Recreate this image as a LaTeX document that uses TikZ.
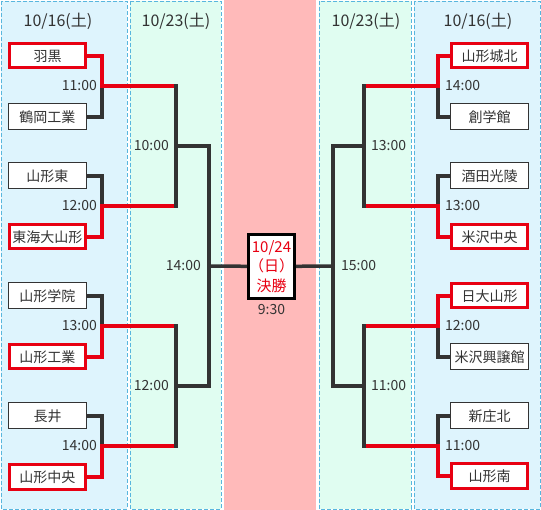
\documentclass[tikz,border=0pt]{standalone}
\usepackage{fontspec}
\setmainfont{Noto Sans CJK JP}
\usetikzlibrary{positioning}
\definecolor{dayblue}{RGB}{222,244,253}
\definecolor{daygreen}{RGB}{224,253,241}
\definecolor{daypink}{RGB}{255,186,186}
\definecolor{dashblue}{RGB}{88,182,222}
\definecolor{linegray}{RGB}{51,51,51}
\definecolor{winred}{RGB}{232,0,18}
\tikzstyle{day} = [draw=dashblue,
                  dash pattern=on 4pt off 2pt,
                  line width=0.8pt]
\tikzstyle{head} = [font=\fontsize{16}{18}\selectfont,
                   text=linegray,
                   inner sep=0pt]
\tikzstyle{team} = [rectangle,
                   minimum width=78pt,
                   minimum height=26pt,
                   inner sep=0pt,
                   align=center,
                   draw=linegray,
                   fill=white,
                   line width=1pt,
                   text=linegray,
                   font=\fontsize{14}{16}\selectfont]
\tikzstyle{winner} = [team,
                     minimum width=76pt,
                     minimum height=24pt,
                     draw=winred,
                     line width=3pt]
\tikzstyle{final} = [rectangle,
                    minimum width=46pt,
                    minimum height=64pt,
                    inner sep=0pt,
                    align=center,
                    draw=black,
                    fill=white,
                    line width=3pt,
                    text=winred,
                    font=\fontsize{15}{19.5}\selectfont]
\tikzstyle{time} = [font=\fontsize{14}{16}\selectfont,
                   text=linegray,
                   inner sep=0pt]
\tikzstyle{loss} = [draw=linegray, line width=3.5pt, line join=miter]
\tikzstyle{win} = [draw=winred, line width=3.5pt, line join=miter]
\tikzstyle{bracket} = [x=1pt, y=-1pt]

\begin{document}
\begin{tikzpicture}[bracket]
    \useasboundingbox (0,0) rectangle (541,510);
    \fill[white] (0,0) rectangle (541,510);
    \filldraw[day, fill=dayblue] (1,1) rectangle (127,509);
    \filldraw[day, fill=daygreen] (130,1) rectangle (221,509);
    \fill[daypink] (224,0) rectangle (316,510);
    \filldraw[day, fill=daygreen] (319,1) rectangle (411,509);
    \filldraw[day, fill=dayblue] (414,1) rectangle (540,509);

    \node (d1) [head] at (58,21) {10/16(土)};
    \node (d2) [head] at (176,21) {10/23(土)};
    \node (d4) [head] at (366,21) {10/23(土)};
    \node (d5) [head] at (478,21) {10/16(土)};

    \node (l1) [winner] at (47.5,56) {羽黒};
    \node (l2) [team] at (47.5,117) {鶴岡工業};
    \node (l3) [team] at (47.5,176) {山形東};
    \node (l4) [winner] at (47.5,237) {東海大山形};
    \node (l5) [team] at (47.5,296) {山形学院};
    \node (l6) [winner] at (47.5,357) {山形工業};
    \node (l7) [team] at (47.5,416) {長井};
    \node (l8) [winner] at (47.5,477) {山形中央};

    \node (r1) [winner] at (489.5,56) {山形城北};
    \node (r2) [team] at (489.5,117) {創学館};
    \node (r3) [team] at (489.5,176) {酒田光陵};
    \node (r4) [winner] at (489.5,237) {米沢中央};
    \node (r5) [winner] at (489.5,296) {日大山形};
    \node (r6) [team] at (489.5,357) {米沢興譲館};
    \node (r7) [team] at (489.5,416) {新庄北};
    \node (r8) [winner] at (489.5,476) {山形南};

    \node (fin) [final] at (271.5,266.5) {10/24\\（日）\\決勝};
    \node (t0) [time, below=4pt of fin] {9:30};

    \coordinate (lj1) at (102,86);
    \coordinate (lj2) at (102,206);
    \coordinate (lj3) at (102,326);
    \coordinate (lj4) at (102,446);
    \coordinate (la1) at (176,86);
    \coordinate (la2) at (176,206);
    \coordinate (la3) at (176,326);
    \coordinate (la4) at (176,446);
    \coordinate (lm1) at (176,146);
    \coordinate (lm2) at (176,386);
    \coordinate (ls1) at (209,146);
    \coordinate (ls2) at (209,386);
    \coordinate (lsm) at (209,266);

    \coordinate (rj1) at (438,86);
    \coordinate (rj2) at (438,206);
    \coordinate (rj3) at (438,326);
    \coordinate (rj4) at (438,446);
    \coordinate (ra1) at (364,86);
    \coordinate (ra2) at (364,206);
    \coordinate (ra3) at (364,326);
    \coordinate (ra4) at (364,446);
    \coordinate (rm1) at (364,146);
    \coordinate (rm2) at (364,386);
    \coordinate (rs1) at (333,146);
    \coordinate (rs2) at (333,386);
    \coordinate (rsm) at (333,266);

    \draw[loss] (l2.east) -| (lj1);
    \draw[loss] (l3.east) -| (lj2);
    \draw[loss] (l5.east) -| (lj3);
    \draw[loss] (l7.east) -| (lj4);
    \draw[win] (l1.east) -| (lj1) -- (la1);
    \draw[win] (l4.east) -| (lj2) -- (la2);
    \draw[win] (l6.east) -| (lj3) -- (la3);
    \draw[win] (l8.east) -| (lj4) -- (la4);
    \draw[loss, line cap=rect] (la1) -- (la2);
    \draw[loss, line cap=rect] (la3) -- (la4);
    \draw[loss] (lm1) -- (ls1) -- (ls2) -- (lm2);
    \draw[loss] (lsm) -- (fin);

    \draw[loss] (r2.west) -| (rj1);
    \draw[loss] (r3.west) -| (rj2);
    \draw[loss] (r6.west) -| (rj3);
    \draw[loss] (r7.west) -| (rj4);
    \draw[win] (r1.west) -| (rj1) -- (ra1);
    \draw[win] (r4.west) -| (rj2) -- (ra2);
    \draw[win] (r5.west) -| (rj3) -- (ra3);
    \draw[win] (r8.west) -| (rj4) -- (ra4);
    \draw[loss, line cap=rect] (ra1) -- (ra2);
    \draw[loss, line cap=rect] (ra3) -- (ra4);
    \draw[loss] (rm1) -- (rs1) -- (rs2) -- (rm2);
    \draw[loss] (rsm) -- (fin);

    \node (tl1) [time, left=5pt of lj1] {11:00};
    \node (tl2) [time, left=5pt of lj2] {12:00};
    \node (tl3) [time, left=5pt of lj3] {13:00};
    \node (tl4) [time, left=5pt of lj4] {14:00};
    \node (tl5) [time, left=7pt of lm1] {10:00};
    \node (tl6) [time, left=7pt of lm2] {12:00};
    \node (tl7) [time, left=8pt of lsm] {14:00};

    \node (tr1) [time, right=7pt of rj1] {14:00};
    \node (tr2) [time, right=7pt of rj2] {13:00};
    \node (tr3) [time, right=7pt of rj3] {12:00};
    \node (tr4) [time, right=7pt of rj4] {11:00};
    \node (tr5) [time, right=7pt of rm1] {13:00};
    \node (tr6) [time, right=7pt of rm2] {11:00};
    \node (tr7) [time, right=8pt of rsm] {15:00};
\end{tikzpicture}
\end{document}
